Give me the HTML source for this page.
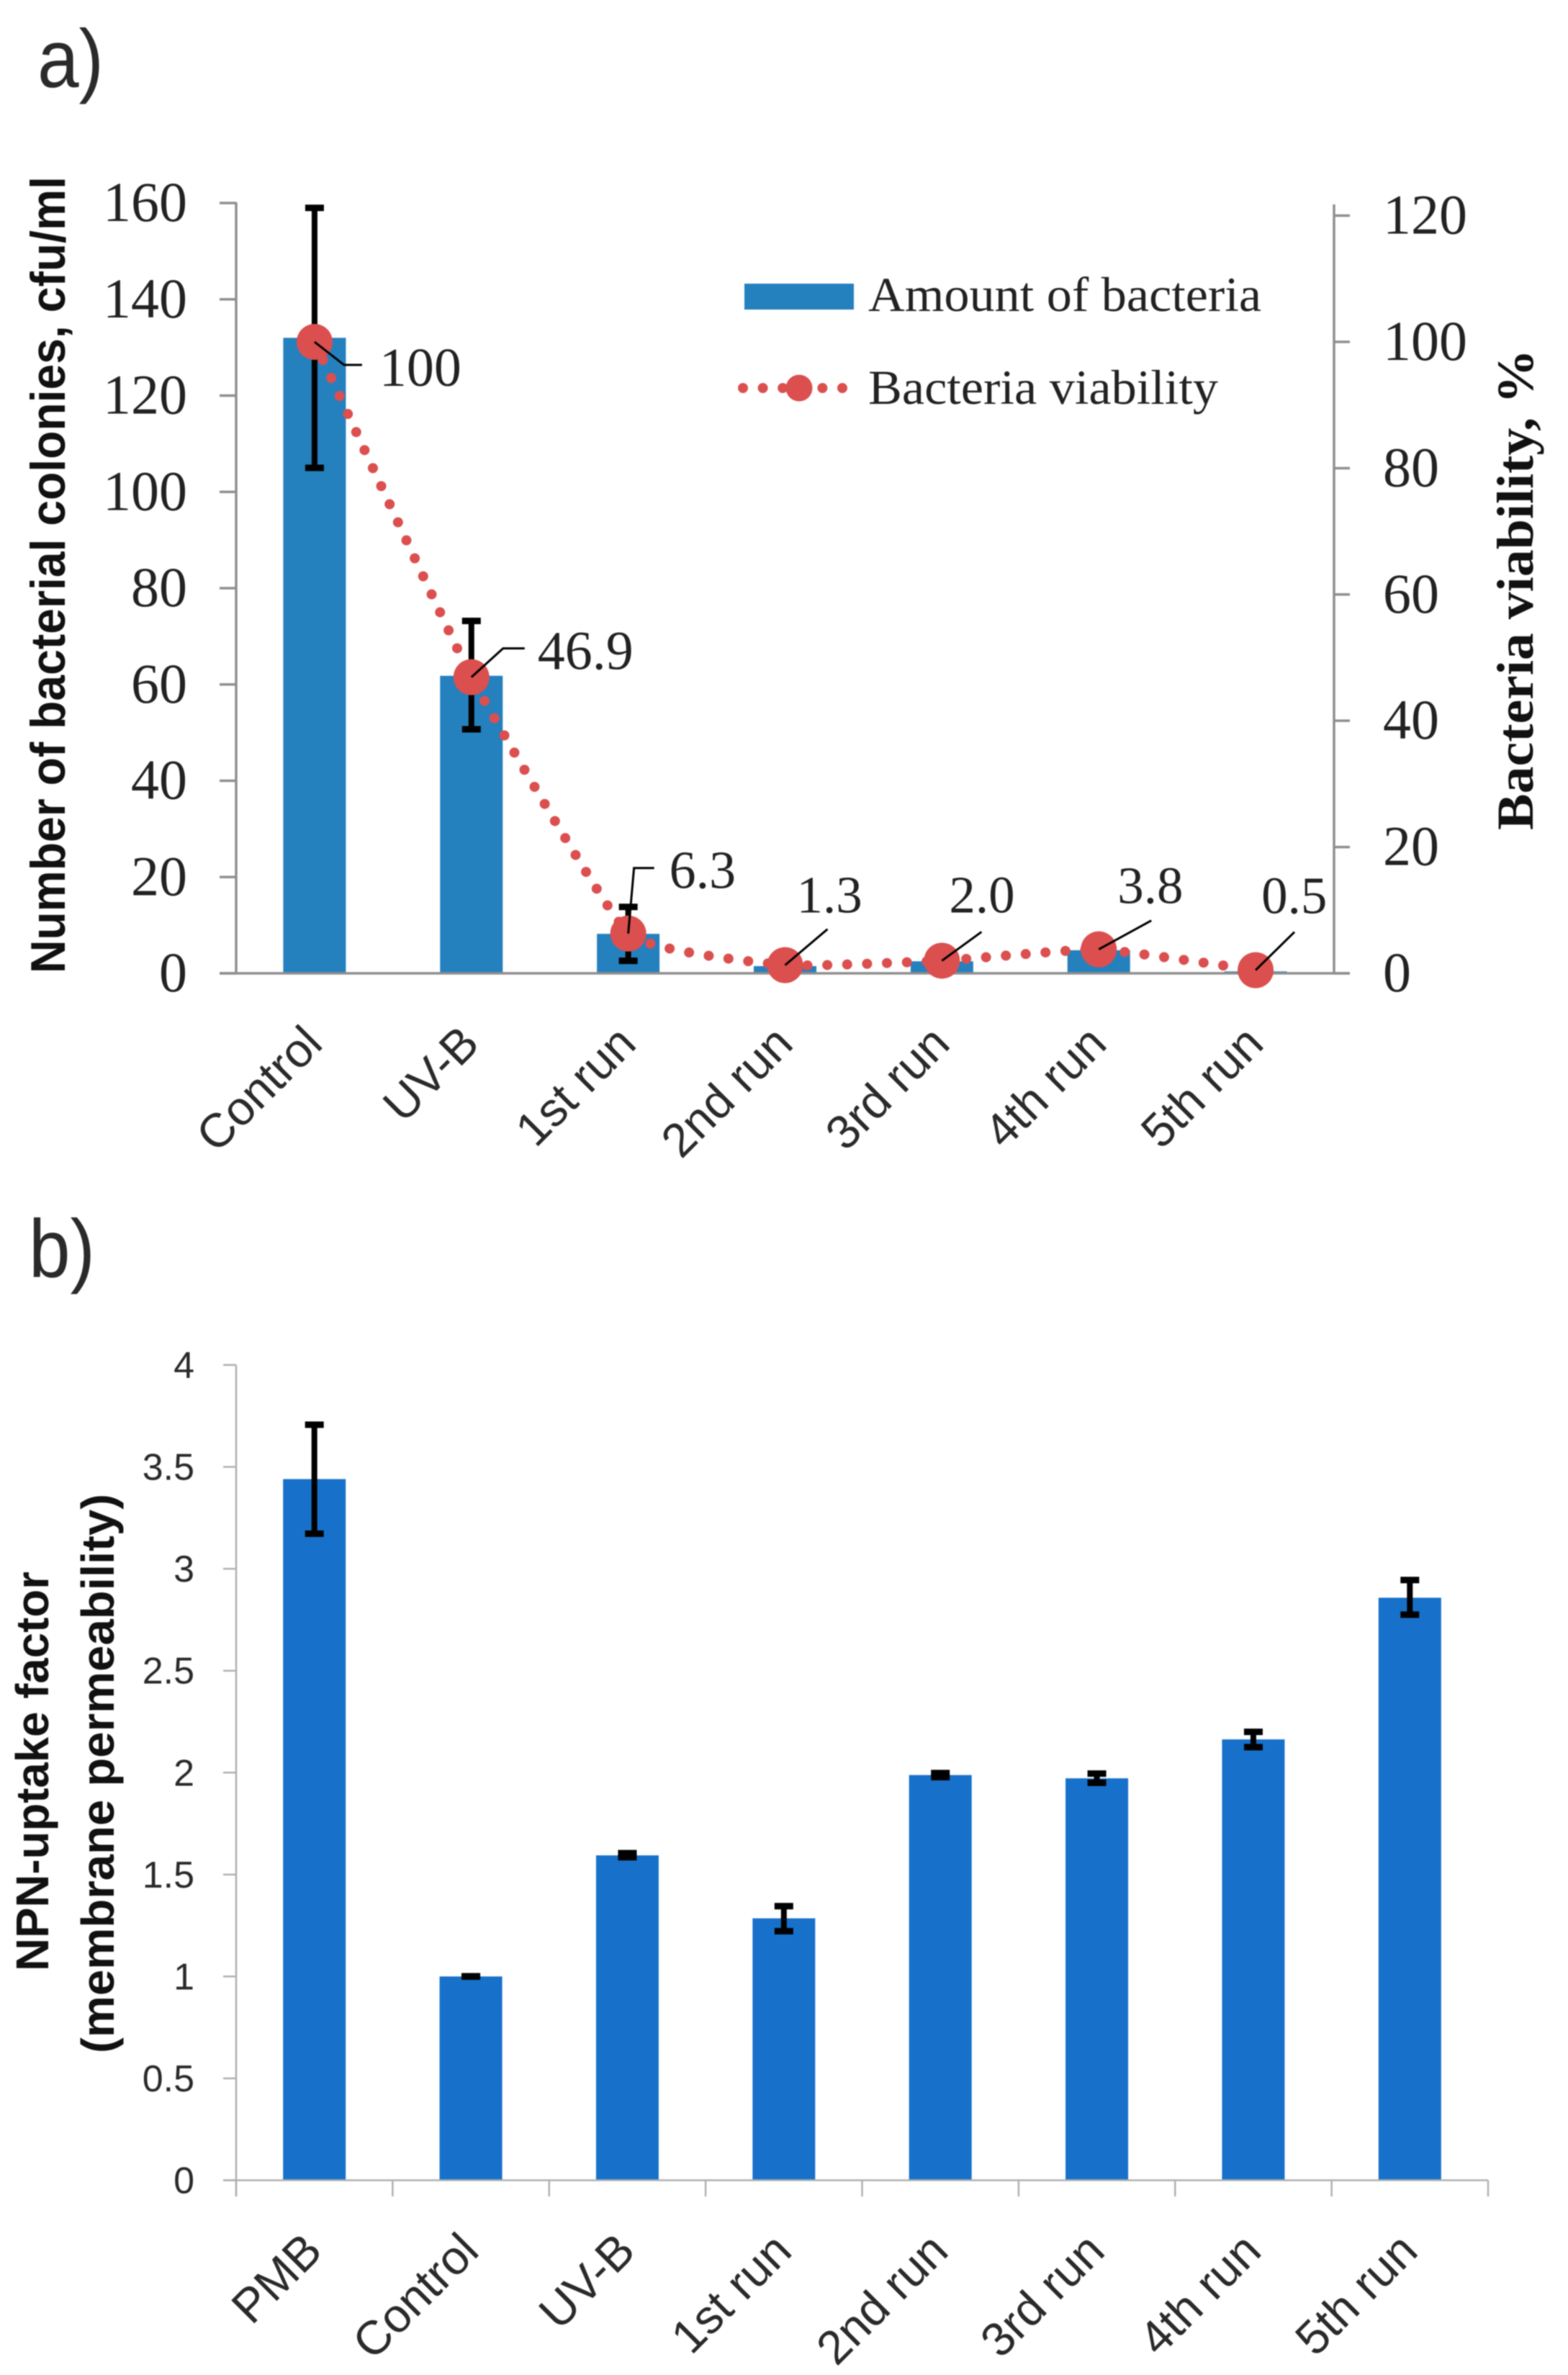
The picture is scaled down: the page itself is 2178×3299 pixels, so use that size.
<!DOCTYPE html>
<html lang="en">
<head>
<meta charset="utf-8">
<title>Bacteria viability and NPN uptake</title>
<style>
html,body{margin:0;padding:0;background:#fff;width:2178px;height:3299px;overflow:hidden}
svg{display:block;filter:blur(0.7px)}
.serif{font-family:"Liberation Serif",serif;fill:#222}
.sans{font-family:"Liberation Sans",sans-serif;fill:#2a2a2a}
.bold-sans{font-family:"Liberation Sans",sans-serif;font-weight:700;fill:#111}
.bold-serif{font-family:"Liberation Serif",serif;font-weight:700;fill:#111}
</style>
</head>
<body>
<svg id="chart" xmlns="http://www.w3.org/2000/svg" width="2178" height="3299" viewBox="0 0 2178 3299">
  <rect width="2178" height="3299" fill="#fff"/>
  <text x="52" y="121" class="sans" font-size="114" textLength="92" lengthAdjust="spacingAndGlyphs">a)</text>
  <text x="40" y="1774" class="sans" font-size="114" textLength="92" lengthAdjust="spacingAndGlyphs">b)</text>

  <text transform="translate(90,1352) rotate(-90)" class="bold-sans" font-size="68" textLength="1107" lengthAdjust="spacingAndGlyphs">Number of bacterial colonies, cfu/ml</text>
  <text transform="translate(2129,1153) rotate(-90)" class="bold-serif" font-size="72" textLength="668" lengthAdjust="spacingAndGlyphs">Bacteria viability, %</text>

  <text transform="translate(67,2738) rotate(-90)" class="bold-sans" font-size="64" textLength="555" lengthAdjust="spacingAndGlyphs">NPN-uptake factor</text>
  <text transform="translate(158,2852) rotate(-90)" class="bold-sans" font-size="64" textLength="777" lengthAdjust="spacingAndGlyphs">(membrane permeability)</text>

  <g>
    <rect x="1034" y="394" width="152" height="36" fill="#2580BE"/>
    <text x="1206" y="432" class="serif" font-size="68" textLength="546" lengthAdjust="spacingAndGlyphs">Amount of bacteria</text>
    <line x1="1032" y1="539" x2="1176" y2="539" stroke="#DB4F4F" stroke-width="14" stroke-linecap="round" stroke-dasharray="0 27.6"/>
    <circle cx="1110" cy="539" r="18.5" fill="#DB4F4F"/>
    <text x="1206" y="561" class="serif" font-size="68" textLength="486" lengthAdjust="spacingAndGlyphs">Bacteria viability</text>
  </g>
</svg>

<script>
// Panel a data
const categoriesA = ['Control', 'UV-B', '1st run', '2nd run', '3rd run', '4th run', '5th run'];
const amountValues = [132, 61.8, 8.2, 1.5, 2.5, 4.8, 0.4];
const amountErrLow = [105, 50.7, 2.6, null, null, null, null];
const amountErrHigh = [159, 73.2, 13.8, null, null, null, null];
const viabilityValues = [100, 46.9, 6.3, 1.3, 2.0, 3.8, 0.5];
const viabilityLabels = ['100', '46.9', '6.3', '1.3', '2.0', '3.8', '0.5'];
const leftTicksA = [0, 20, 40, 60, 80, 100, 120, 140, 160];
const rightTicksA = [0, 20, 40, 60, 80, 100, 120];

// Panel b data
const categoriesB = ['PMB', 'Control', 'UV-B', '1st run', '2nd run', '3rd run', '4th run', '5th run'];
const npnValues = [3.44, 1.0, 1.594, 1.285, 1.988, 1.972, 2.163, 2.858];
const npnErrLow = [3.172, 0.999, 1.585, 1.222, 1.978, 1.95, 2.125, 2.775];
const npnErrHigh = [3.707, 1.001, 1.605, 1.345, 1.998, 1.995, 2.2, 2.945];
const ticksB = [0, 0.5, 1, 1.5, 2, 2.5, 3, 3.5, 4];

const svg = document.getElementById('chart');
const NS = 'http://www.w3.org/2000/svg';

function make(tag, attrs, parent, text) {
  const el = document.createElementNS(NS, tag);
  for (const k in attrs) el.setAttribute(k, attrs[k]);
  if (text !== undefined) el.textContent = text;
  (parent || svg).appendChild(el);
  return el;
}

// Axis functions
const bandA = (1853 - 328) / categoriesA.length;
const xA = i => 328 + bandA * (i + 0.5);
const yLeftA = v => 1352 - v * (1352 - 282) / 160;
const yRightA = v => 1352 - v * (1352 - 299.5) / 120;

const bandB = (2067 - 328) / categoriesB.length;
const xB = i => 328 + bandB * (i + 0.5);
const yB = v => 3028.5 - v * (3028.5 - 1896) / 4;

const BAR_W = 87;
const AXIS_A = '#8f8f8f';
const AXIS_B = '#b0b0b0';

function drawError(cx, yTop, yBottom, label) {
  const g = make('g', {});
  
  
  make('line', {x1: cx, x2: cx, y1: yTop, y2: yBottom, stroke: '#000', 'stroke-width': 8}, g);
  make('line', {x1: cx - 13, x2: cx + 13, y1: yTop, y2: yTop, stroke: '#000', 'stroke-width': 9}, g);
  make('line', {x1: cx - 13, x2: cx + 13, y1: yBottom, y2: yBottom, stroke: '#000', 'stroke-width': 9}, g);
}

function smoothPath(pts) {
  let d = 'M' + pts[0][0] + ' ' + pts[0][1];
  for (let i = 0; i < pts.length - 1; i++) {
    const p0 = pts[Math.max(i - 1, 0)];
    const p1 = pts[i];
    const p2 = pts[i + 1];
    const p3 = pts[Math.min(i + 2, pts.length - 1)];
    const c1x = p1[0] + (p2[0] - p0[0]) / 16;
    const c1y = p1[1] + (p2[1] - p0[1]) / 16;
    const c2x = p2[0] - (p3[0] - p1[0]) / 16;
    const c2y = p2[1] - (p3[1] - p1[1]) / 16;
    d += ' C' + c1x + ' ' + c1y + ' ' + c2x + ' ' + c2y + ' ' + p2[0] + ' ' + p2[1];
  }
  return d;
}

function drawPanelA() {
  // bars
  categoriesA.forEach((name, i) => {
    const top = yLeftA(amountValues[i]);
    const bar = make('rect', {x: xA(i) - BAR_W / 2, y: top, width: BAR_W, height: 1352 - top, fill: '#2580BE'});
    
    
  });

  // axes
  const leftAxis = make('line', {x1: 328, x2: 328, y1: yLeftA(160) - 1, y2: 1352, stroke: AXIS_A, 'stroke-width': 3.5});
  
  
  const rightAxis = make('line', {x1: 1853, x2: 1853, y1: 284, y2: 1352, stroke: AXIS_A, 'stroke-width': 3.5});
  
  
  const xAxis = make('line', {x1: 305, x2: 1875, y1: 1352, y2: 1352, stroke: AXIS_A, 'stroke-width': 3.5});
  
  

  leftTicksA.forEach(v => {
    const y = yLeftA(v);
    const tick = make('line', {x1: 305, x2: 328, y1: y, y2: y, stroke: AXIS_A, 'stroke-width': 3.5});
    
    
    const label = make('text', {x: 260, y: y + 25, 'text-anchor': 'end', class: 'serif', 'font-size': 78}, svg, String(v));
    
    
  });
  rightTicksA.forEach(v => {
    const y = yRightA(v);
    const tick = make('line', {x1: 1853, x2: 1875, y1: y, y2: y, stroke: AXIS_A, 'stroke-width': 3.5});
    
    
    const label = make('text', {x: 1921, y: y + 25, class: 'serif', 'font-size': 78}, svg, String(v));
    
    
  });

  // category labels
  categoriesA.forEach((name, i) => {
    const label = make('text', {transform: 'translate(' + (xA(i) + 14) + ',1453) rotate(-45)', 'text-anchor': 'end', class: 'sans', 'font-size': 66}, svg, name);
    
    
  });

  // error bars
  categoriesA.forEach((name, i) => {
    if (amountErrHigh[i] !== null) drawError(xA(i), yLeftA(amountErrHigh[i]), yLeftA(amountErrLow[i]), 'amount-error-' + i);
  });

  // viability line
  const pts = viabilityValues.map((v, i) => [xA(i), yRightA(v)]);
  const line = make('path', {d: smoothPath(pts), fill: 'none', stroke: '#DB4F4F', 'stroke-width': 14, 'stroke-linecap': 'round', 'stroke-dasharray': '0 27.6'});
  
  
  viabilityValues.forEach((v, i) => {
    const dot = make('circle', {cx: xA(i), cy: yRightA(v), r: 25, fill: '#DB4F4F'});
    
    
  });

  // Callouts: leader geometry relative to each point
  const leader = [
    {mid: [41, 32], end: [66, 32], tx: 90, ty: 61, fs: 76},
    {mid: [44, -40], end: [74, -40], tx: 92, ty: -11, fs: 76},
    {mid: [8, -91], end: [36, -91], tx: 57, ty: -63, fs: 74},
    {end: [59, -50], tx: 16, ty: -73, fs: 73},
    {end: [55, -40], tx: 10, ty: -67, fs: 73},
    {end: [73, -40], tx: 26, ty: -64, fs: 73},
    {end: [54, -53], tx: 8, ty: -79, fs: 73}
  ];
  viabilityLabels.forEach((text, i) => {
    const px = xA(i);
    const py = yRightA(viabilityValues[i]);
    const l = leader[i];
    let points = px + ',' + py;
    if (l.mid) points += ' ' + (px + l.mid[0]) + ',' + (py + l.mid[1]);
    points += ' ' + (px + l.end[0]) + ',' + (py + l.end[1]);
    const lead = make('polyline', {points: points, fill: 'none', stroke: '#000', 'stroke-width': 3});
    
    
    const label = make('text', {x: px + l.tx, y: py + l.ty, class: 'serif', 'font-size': l.fs}, svg, text);
    
    
  });
}

function drawPanelB() {
  categoriesB.forEach((name, i) => {
    const top = yB(npnValues[i]);
    const bar = make('rect', {x: xB(i) - BAR_W / 2, y: top, width: BAR_W, height: 3028.5 - top, fill: '#1771CA'});
    
    
  });

  const yAxis = make('line', {x1: 328, x2: 328, y1: yB(4), y2: 3051, stroke: AXIS_B, 'stroke-width': 2.5});
  
  
  const xAxis = make('line', {x1: 310, x2: 2067, y1: 3028.5, y2: 3028.5, stroke: AXIS_B, 'stroke-width': 2.5});
  
  

  ticksB.forEach(v => {
    const y = yB(v);
    const tick = make('line', {x1: 310, x2: 328, y1: y, y2: y, stroke: AXIS_B, 'stroke-width': 2.5});
    
    
    const label = make('text', {x: 270, y: y + 18, 'text-anchor': 'end', class: 'sans', 'font-size': 52}, svg, String(v));
    
    
  });

  for (let i = 0; i <= categoriesB.length; i++) {
    const x = 328 + bandB * i;
    const tick = make('line', {x1: x, x2: x, y1: 3028.5, y2: 3051, stroke: AXIS_B, 'stroke-width': 2.5});
    
    
  }

  categoriesB.forEach((name, i) => {
    const label = make('text', {transform: 'translate(' + (xB(i) + 14) + ',3130) rotate(-45)', 'text-anchor': 'end', class: 'sans', 'font-size': 66}, svg, name);
    
    
    drawError(xB(i), yB(npnErrHigh[i]), yB(npnErrLow[i]), 'npn-error-' + i);
  });
}

drawPanelA();
drawPanelB();
</script>
</body>
</html>
